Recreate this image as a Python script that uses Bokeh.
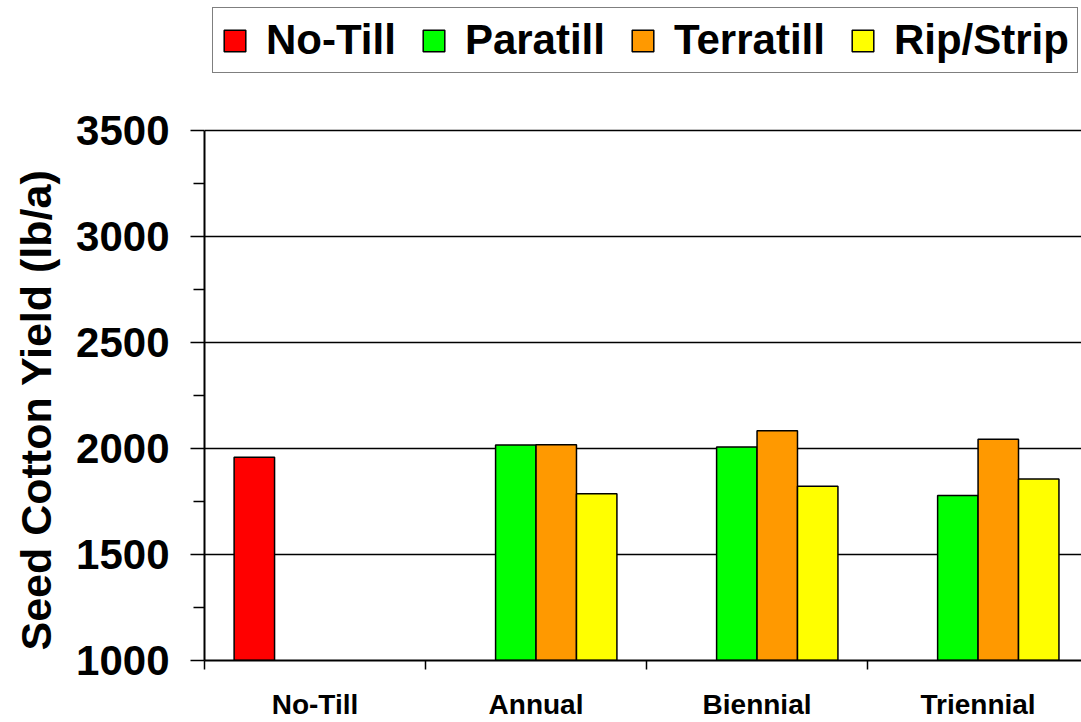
from bokeh.plotting import figure
from bokeh.models import (Range1d, FixedTicker, Legend, LegendItem, ColumnDataSource, Title)
from bokeh.embed import file_html
from bokeh.resources import INLINE

categories = ["No-Till", "Annual", "Biennial", "Triennial"]
series_names = ["No-Till", "Paratill", "Terratill", "Rip/Strip"]
series_colors = ["#FF0000", "#00FF00", "#FF9900", "#FFFF00"]

notill_cats = ["No-Till"]
notill_vals = [1960]
paratill_cats = ["Annual", "Biennial", "Triennial"]
paratill_vals = [2017, 2008, 1779]
terratill_cats = ["Annual", "Biennial", "Triennial"]
terratill_vals = [2019, 2085, 2044]
ripstrip_cats = ["Annual", "Biennial", "Triennial"]
ripstrip_vals = [1787, 1823, 1857]

y_major_ticks = [1000, 1500, 2000, 2500, 3000, 3500]
y_minor_ticks = [1250, 1750, 2250, 2750, 3250]
y_label = "Seed Cotton Yield (lb/a)"

FONT = "Liberation Sans"
bar_w = 0.183
offsets = [-1.5 * bar_w, -0.5 * bar_w, 0.5 * bar_w, 1.5 * bar_w]

# frame spans the full height above the x axis so the legend can sit inside it;
# the axis and grid are bounded to 1000..3500
p = figure(width=1081, height=722, output_backend="svg", toolbar_location=None,
           title_location=None,
           x_range=Range1d(0, 3.968), y_range=Range1d(1000, 4115.6),
           min_border_left=204, min_border_right=0, min_border_top=0, min_border_bottom=59)
p.outline_line_color = None
p.background_fill_color = "white"

data = [(notill_cats, notill_vals), (paratill_cats, paratill_vals),
        (terratill_cats, terratill_vals), (ripstrip_cats, ripstrip_vals)]
renderers = []
for i, (cats, vals) in enumerate(data):
    xs = [categories.index(c) + 0.5 + offsets[i] for c in cats]
    src = ColumnDataSource(dict(x=xs, top=vals))
    r = p.vbar(x="x", top="top", bottom=1000, width=bar_w, source=src,
               fill_color=series_colors[i], line_color="black", line_width=1.5)
    renderers.append(r)

# y axis (ticks, labels, line)
yax = p.yaxis[0]
yax.ticker = FixedTicker(ticks=y_major_ticks, minor_ticks=y_minor_ticks)
yax.bounds = (1000, 3500)
yax.major_label_text_font = FONT
yax.major_label_text_font_style = "bold"
yax.major_label_text_font_size = "42px"
yax.major_label_text_color = "black"
yax.major_label_standoff = 21
yax.major_tick_out = 14
yax.major_tick_in = 0
yax.minor_tick_out = 11
yax.minor_tick_in = 0
yax.axis_line_width = 2
yax.axis_line_color = "black"
yax.major_tick_line_color = "black"
yax.major_tick_line_width = 1.5
yax.minor_tick_line_color = "black"
yax.minor_tick_line_width = 1.5

# y axis title, starting near the bottom of the value span like the reference
ytitle = Title(text=y_label, align="left", offset=10, standoff=23, vertical_align="top",
               text_font=FONT, text_font_style="bold", text_font_size="43px",
               text_color="black")
p.add_layout(ytitle, "left")

# x axis
xax = p.xaxis[0]
centers = [i + 0.5 for i in range(len(categories))]
xax.ticker = FixedTicker(ticks=centers, minor_ticks=[0, 1, 2, 3])
xax.major_label_overrides = {c: name for c, name in zip(centers, categories)}
xax.major_label_text_font = FONT
xax.major_label_text_font_style = "bold"
xax.major_label_text_font_size = "28px"
xax.major_label_text_color = "black"
xax.major_label_standoff = 19
xax.major_tick_out = 9
xax.major_tick_in = 0
xax.major_tick_line_color = None
xax.minor_tick_out = 9
xax.minor_tick_in = 0
xax.minor_tick_line_color = "black"
xax.minor_tick_line_width = 1.5
xax.axis_line_width = 2
xax.axis_line_color = "black"

p.xgrid.visible = False
p.ygrid.grid_line_color = "black"
p.ygrid.grid_line_width = 1.5

legend = Legend(items=[LegendItem(label=n, renderers=[r]) for n, r in zip(series_names, renderers)],
                location=(8, 587), orientation="horizontal")
legend.label_text_font = FONT
legend.label_text_font_style = "bold"
legend.label_text_font_size = "42px"
legend.label_text_color = "black"
legend.glyph_width = 27
legend.glyph_height = 27
legend.label_standoff = 18
legend.spacing = 24
legend.padding = 8
legend.margin = 0
legend.border_line_color = "black"
legend.border_line_width = 1.5
legend.background_fill_color = "white"
legend.background_fill_alpha = 1.0
p.add_layout(legend, "center")

open("out.html", "w").write(file_html(p, INLINE))
